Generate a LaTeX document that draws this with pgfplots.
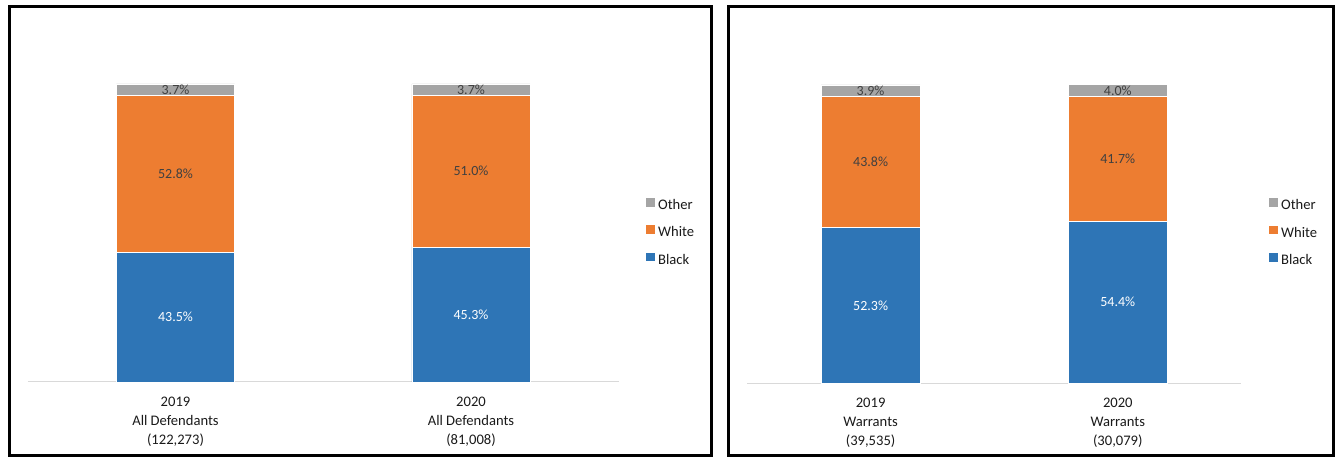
\documentclass[border=0pt]{standalone}
\usepackage{pgfplots}
\pgfplotsset{compat=1.18}
\usepackage{fontspec}
\setmainfont{Carlito}
\definecolor{cblack}{HTML}{2E75B6}
\definecolor{cwhite}{HTML}{ED7D31}
\definecolor{cother}{HTML}{A5A5A5}
\definecolor{lbl}{HTML}{404040}
\definecolor{axl}{HTML}{D9D9D9}
\definecolor{txt}{HTML}{1A1A1A}
\tikzset{
  lab/.style={font=\fontsize{14}{16}\selectfont, text=lbl, inner sep=0pt},
  labw/.style={font=\fontsize{14}{16}\selectfont, text=white, inner sep=0pt},
}
\pgfplotsset{
  panel/.style={
    scale only axis, anchor=south west,
    xmin=-0.5, xmax=1.5, ymin=0, ymax=100,
    ybar stacked, bar width=0.4, clip=false,
    axis x line*=bottom, axis y line=none,
    x axis line style={draw=axl, line width=1pt, -},
    major tick length=0pt, xtick={0,1},
    xticklabel shift=15pt,
    xticklabel style={align=center, inner sep=0pt, text=txt,
      font=\fontsize{14.6}{18.7}\selectfont},
    legend cell align=left,
    reverse legend,
    legend style={draw=none, fill=none, inner sep=0pt, outer sep=0pt,
      anchor=north west, row sep=13pt, text=txt,
      font=\fontsize{14.6}{17}\selectfont,
      nodes={inner sep=0pt, text height=10pt, text depth=3pt},
      /tikz/every odd column/.append style={column sep=4pt}},
  },
  seg/.style={fill=#1, draw=white, line width=0.5pt,
    legend image code/.code={\fill[#1] (0pt,0pt) rectangle (7.6pt,7.6pt);}},
}
\begin{document}
\begin{tikzpicture}
\path[use as bounding box] (0pt,0pt) rectangle (1341pt,457pt);
\draw[line width=3pt] (9pt,1.3pt) rectangle (711.5pt,450.3pt);
\draw[line width=3pt] (728.3pt,1.3pt) rectangle (1333.7pt,450.3pt);
% Left panel
\begin{axis}[panel, at={(27.75pt,75pt)}, width=591pt, height=298pt,
  xticklabels={{2019\\All Defendants\\(122,273)},{2020\\All Defendants\\(81,008)}},
  legend style={at={(1.0461,0.6174)}}]
\addplot[seg=cblack] coordinates {(0,43.5) (1,45.3)};
\addplot[seg=cwhite] coordinates {(0,52.8) (1,51.0)};
\addplot[seg=cother] coordinates {(0,3.7) (1,3.7)};
\legend{Black,White,Other}
\coordinate (a1) at (axis cs:0,21.75);
\coordinate (a2) at (axis cs:1,22.65);
\coordinate (a3) at (axis cs:0,69.9);
\coordinate (a4) at (axis cs:1,70.8);
\coordinate (a5) at (axis cs:0,98.15);
\coordinate (a6) at (axis cs:1,98.15);
\end{axis}
\node[labw] at (a1) {43.5\%};
\node[labw] at (a2) {45.3\%};
\node[lab] at (a3) {52.8\%};
\node[lab] at (a4) {51.0\%};
\node[lab] at (a5) {3.7\%};
\node[lab] at (a6) {3.7\%};
% Right panel
\begin{axis}[panel, at={(747pt,73.7pt)}, width=494.4pt, height=298.3pt,
  xticklabels={{2019\\Warrants\\(39,535)},{2020\\Warrants\\(30,079)}},
  legend style={at={(1.0558,0.6195)}}]
\addplot[seg=cblack] coordinates {(0,52.3) (1,54.4)};
\addplot[seg=cwhite] coordinates {(0,43.8) (1,41.7)};
\addplot[seg=cother] coordinates {(0,3.9) (1,4.0)};
\legend{Black,White,Other}
\coordinate (b1) at (axis cs:0,26.15);
\coordinate (b2) at (axis cs:1,27.2);
\coordinate (b3) at (axis cs:0,74.2);
\coordinate (b4) at (axis cs:1,75.25);
\coordinate (b5) at (axis cs:0,98.05);
\coordinate (b6) at (axis cs:1,98.1);
\end{axis}
\node[labw] at (b1) {52.3\%};
\node[labw] at (b2) {54.4\%};
\node[lab] at (b3) {43.8\%};
\node[lab] at (b4) {41.7\%};
\node[lab] at (b5) {3.9\%};
\node[lab] at (b6) {4.0\%};
\end{tikzpicture}
\end{document}
